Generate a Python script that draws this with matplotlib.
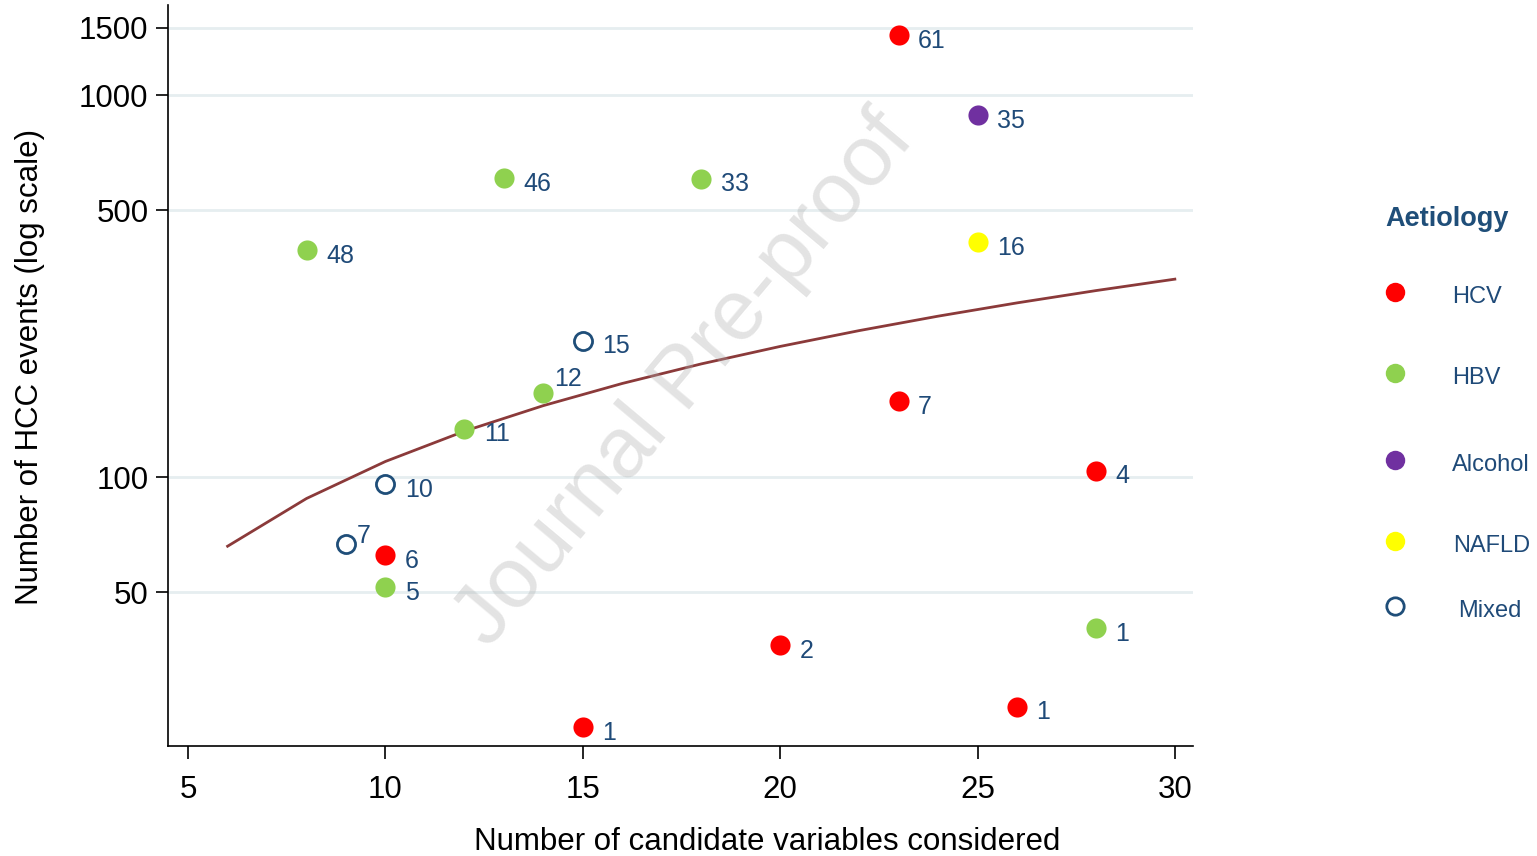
import matplotlib
matplotlib.use("Agg")
import matplotlib.pyplot as plt
from matplotlib.lines import Line2D

# ---- data ----
hcv_x = [23, 23, 28, 10, 20, 15, 26]
hcv_y = [1436, 158, 104, 62.5, 36.3, 22.2, 25.1]
hcv_lab = ["61", "7", "4", "6", "2", "1", "1"]

hbv_x = [13, 18, 8, 14, 12, 10, 28]
hbv_y = [607, 605, 393, 166, 134, 51.5, 40.3]
hbv_lab = ["46", "33", "48", "12", "11", "5", "1"]

alc_x = [25]
alc_y = [887]
alc_lab = ["35"]

nafld_x = [25]
nafld_y = [412]
nafld_lab = ["16"]

mixed_x = [15, 10, 9]
mixed_y = [228, 96, 66.8]
mixed_lab = ["15", "10", "7"]

curve_x = [6, 8, 10, 12, 14, 16, 18, 20, 22, 24, 26, 28, 30]
curve_y = [66, 88, 110, 132, 154, 176, 198, 220, 242, 264, 286, 308, 330]

xticks = [5, 10, 15, 20, 25, 30]
yticks = [50, 100, 500, 1000, 1500]

legend_names = ["HCV", "HBV", "Alcohol", "NAFLD", "Mixed"]

# ---- style ----
RED = "#ff0000"
GREEN = "#8fd14f"
PURPLE = "#7030a0"
YELLOW = "#ffff00"
NAVY = "#1f4e79"
LABC = "#1f4a78"
CURVE = "#8b3a3a"
GRID = "#e6eef0"
FONT = "Liberation Sans"

W, H = 1537, 856
fig = plt.figure(figsize=(W / 100, H / 100), dpi=100)
ax = fig.add_axes([168 / W, 1 - 746 / H, (1193 - 168) / W, (746 - 5) / H])

ax.set_yscale("log")
ax.set_xlim(4.49, 30.46)
ax.set_ylim(19.8, 1722)

for yv in yticks:
    ax.axhline(yv, color=GRID, lw=2, zorder=0)

ax.plot(curve_x, curve_y, color=CURVE, lw=2, zorder=2)

S = 210
ax.scatter(hcv_x, hcv_y, s=S, color=RED, zorder=3, linewidths=0)
ax.scatter(hbv_x, hbv_y, s=S, color=GREEN, zorder=3, linewidths=0)
ax.scatter(alc_x, alc_y, s=S, color=PURPLE, zorder=3, linewidths=0)
ax.scatter(nafld_x, nafld_y, s=S, color=YELLOW, zorder=3, linewidths=0)
ax.scatter(mixed_x, mixed_y, s=170, facecolors="white", edgecolors=NAVY,
           linewidths=2, zorder=3)

def label(xs, ys, labs, special=None):
    for i, (x, y, t) in enumerate(zip(xs, ys, labs)):
        dx, dy = 14, -4
        if special and i in special:
            dx, dy = special[i]
        ax.annotate(t, (x, y), xytext=(dx, dy), textcoords="offset points",
                    fontsize=18, color=LABC, va="center", ha="left",
                    family=FONT, zorder=4)

label(hcv_x, hcv_y, hcv_lab)
label(hbv_x, hbv_y, hbv_lab, special={3: (8, 10)})
label(alc_x, alc_y, alc_lab)
label(nafld_x, nafld_y, nafld_lab)
label(mixed_x, mixed_y, mixed_lab, special={2: (8, 6)})

# axes styling
for s in ["top", "right"]:
    ax.spines[s].set_visible(False)
ax.spines["left"].set_linewidth(1.2)
ax.spines["bottom"].set_linewidth(1.2)
ax.set_xticks(xticks)
ax.set_xticklabels([str(v) for v in xticks], family=FONT, fontsize=22.5)
ax.set_yticks(yticks)
ax.set_yticklabels([str(v) for v in yticks], family=FONT, fontsize=22.5)
ax.yaxis.set_minor_locator(matplotlib.ticker.NullLocator())
ax.tick_params(axis="both", length=9, width=1.2, pad=5)
ax.tick_params(axis="x", pad=12)

fig.text(767 / W, 1 - 842 / H, "Number of candidate variables considered",
         fontsize=22.5, family=FONT, ha="center", va="center")
fig.text(30 / W, 1 - 367 / H, "Number of HCC events (log scale)",
         fontsize=22.5, family=FONT, ha="center", va="center", rotation=90)

# watermark
fig.text(685 / W, 1 - 380 / H, "Journal Pre-proof", fontsize=62, color="#b0b0b0",
         alpha=0.35, rotation=50, ha="center", va="center", family=FONT)

# legend (figure-level)
fig.text(1447 / W, 1 - 219 / H, "Aetiology", fontsize=19.5, fontweight="bold",
         color=NAVY, ha="center", va="center", family=FONT)
leg_y = [292, 373, 460, 541, 606]
leg_tx = [1452, 1452, 1452, 1453, 1458]
leg_style = [(RED, RED), (GREEN, GREEN), (PURPLE, PURPLE), (YELLOW, YELLOW), ("white", NAVY)]
for name, yy, tx, (fc, ec) in zip(legend_names, leg_y, leg_tx, leg_style):
    ms = 14 if fc != "white" else 12.5
    fig.add_artist(Line2D([1395 / W], [1 - yy / H], marker="o", markersize=ms,
                          markerfacecolor=fc, markeredgecolor=ec,
                          markeredgewidth=2 if fc == "white" else 0,
                          linestyle="none", transform=fig.transFigure))
    fig.text(tx / W, 1 - (yy + 5) / H, name, fontsize=17, color=LABC,
             ha="left", va="center", family=FONT)

fig.savefig("out.png", dpi=100)
